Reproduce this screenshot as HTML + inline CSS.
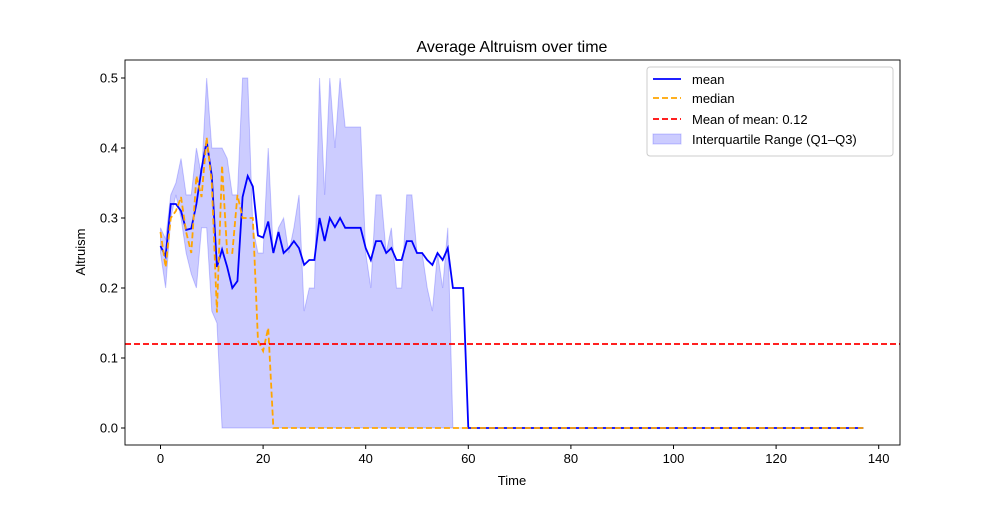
<!DOCTYPE html>
<html><head><meta charset="utf-8"><style>
body{margin:0;background:#fff;font-family:"Liberation Sans","DejaVu Sans",sans-serif}
</style></head><body>
<svg id="chart" width="1000" height="500" xmlns="http://www.w3.org/2000/svg" font-family="Liberation Sans, DejaVu Sans, sans-serif"></svg>
<script>
const meanVals=[0.26,0.245,0.32,0.32,0.31,0.283,0.285,0.32,0.37,0.41,0.36,0.23,0.255,0.23,0.2,0.21,0.33,0.36,0.345,0.275,0.272,0.295,0.25,0.28,0.25,0.257,0.267,0.257,0.233,0.24,0.24,0.3,0.267,0.3,0.287,0.3,0.286,0.286,0.286,0.286,0.257,0.24,0.267,0.267,0.25,0.257,0.24,0.24,0.267,0.267,0.25,0.25,0.24,0.233,0.25,0.24,0.257,0.2,0.2,0.2];
const medianVals=[0.28,0.23,0.3,0.31,0.33,0.28,0.25,0.36,0.33,0.415,0.35,0.165,0.375,0.25,0.25,0.333,0.3,0.3,0.3,0.125,0.11,0.143];
const q1Vals=[0.25,0.2,0.3,0.333,0.3,0.25,0.22,0.2,0.286,0.286,0.167,0.15];
const q3Vals=[0.286,0.27,0.333,0.35,0.385,0.333,0.333,0.4,0.36,0.5,0.4,0.4,0.4,0.385,0.333,0.333,0.5,0.5,0.286,0.25,0.25,0.4,0.25,0.286,0.3,0.25,0.286,0.333,0.167,0.2,0.2,0.5,0.333,0.5,0.4,0.5,0.43,0.43,0.43,0.43,0.25,0.2,0.333,0.333,0.25,0.286,0.2,0.2,0.333,0.333,0.25,0.25,0.2,0.167,0.25,0.2,0.286];
const nT=138;
const meanOfMean=0.12;
const xTicks=[0,20,40,60,80,100,120,140];
const yTicks=[0.0,0.1,0.2,0.3,0.4,0.5];
const val=(a,i)=>i<a.length?a[i]:0;
const X=t=>160.5+t*5.13, Y=v=>428-v*700;
const svg=document.getElementById('chart');
const NS='http://www.w3.org/2000/svg';
function mk(tag,attrs,parent){const e=document.createElementNS(NS,tag);for(const k in attrs)e.setAttribute(k,attrs[k]);(parent||svg).appendChild(e);return e;}
const L=125,R=900,T=60,B=445;
// band
let pts=[];for(let i=0;i<nT;i++)pts.push(X(i)+','+Y(val(q3Vals,i)));
for(let i=nT-1;i>=0;i--)pts.push(X(i)+','+Y(val(q1Vals,i)));
let band=mk('polygon',{points:pts.join(' '),fill:'rgba(0,0,255,0.2)',stroke:'rgba(0,0,255,0.2)'});


let mp=[],dp=[];for(let i=0;i<nT;i++){mp.push(X(i)+','+Y(val(meanVals,i)));dp.push(X(i)+','+Y(val(medianVals,i)));}
let ml=mk('polyline',{points:mp.join(' '),fill:'none',stroke:'#0000ff','stroke-width':1.8});


let dl=mk('polyline',{points:dp.join(' '),fill:'none',stroke:'orange','stroke-width':1.8,'stroke-dasharray':'6,3'});


let rl=mk('line',{x1:L,x2:R,y1:Y(meanOfMean),y2:Y(meanOfMean),stroke:'red','stroke-width':1.8,'stroke-dasharray':'6,3'});


let fr=mk('rect',{x:L,y:T,width:R-L,height:B-T,fill:'none',stroke:'#000','stroke-width':0.9});


xTicks.forEach(t=>{mk('line',{x1:X(t),x2:X(t),y1:B,y2:B+4,stroke:'#000'});
let tx=mk('text',{x:X(t),y:B+18,'text-anchor':'middle','font-size':13});tx.textContent=t;

});
yTicks.forEach(v=>{mk('line',{x1:L-4,x2:L,y1:Y(v),y2:Y(v),stroke:'#000'});
let tx=mk('text',{x:L-7,y:Y(v)+4.5,'text-anchor':'end','font-size':13});tx.textContent=v.toFixed(1);

});
</script>
<svg style="position:absolute;left:0;top:0" width="1000" height="500" font-family="Liberation Sans, DejaVu Sans, sans-serif">
<text x="512" y="52" text-anchor="middle" font-size="16">Average Altruism over time</text>
<text x="512" y="485" text-anchor="middle" font-size="13">Time</text>
<text transform="translate(85,252) rotate(-90)" text-anchor="middle" font-size="13">Altruism</text>
<g>
<rect x="647" y="67" width="246" height="89" rx="3" fill="#fff" fill-opacity="0.8" stroke="#ccc"/>
<line x1="653" x2="681" y1="79" y2="79" stroke="#0000ff" stroke-width="1.8"/>
<text x="692" y="84" font-size="13">mean</text>
<line x1="653" x2="681" y1="98" y2="98" stroke="orange" stroke-width="1.8" stroke-dasharray="6,3"/>
<text x="692" y="103" font-size="13">median</text>
<line x1="653" x2="681" y1="119" y2="119" stroke="red" stroke-width="1.8" stroke-dasharray="6,3"/>
<text x="692" y="124" font-size="13">Mean of mean: 0.12</text>
<rect x="653" y="134" width="28" height="10" fill="rgba(0,0,255,0.2)" stroke="rgba(0,0,255,0.2)"/>
<text x="692" y="144" font-size="13">Interquartile Range (Q1–Q3)</text>
</g>
</svg>
</body></html>
